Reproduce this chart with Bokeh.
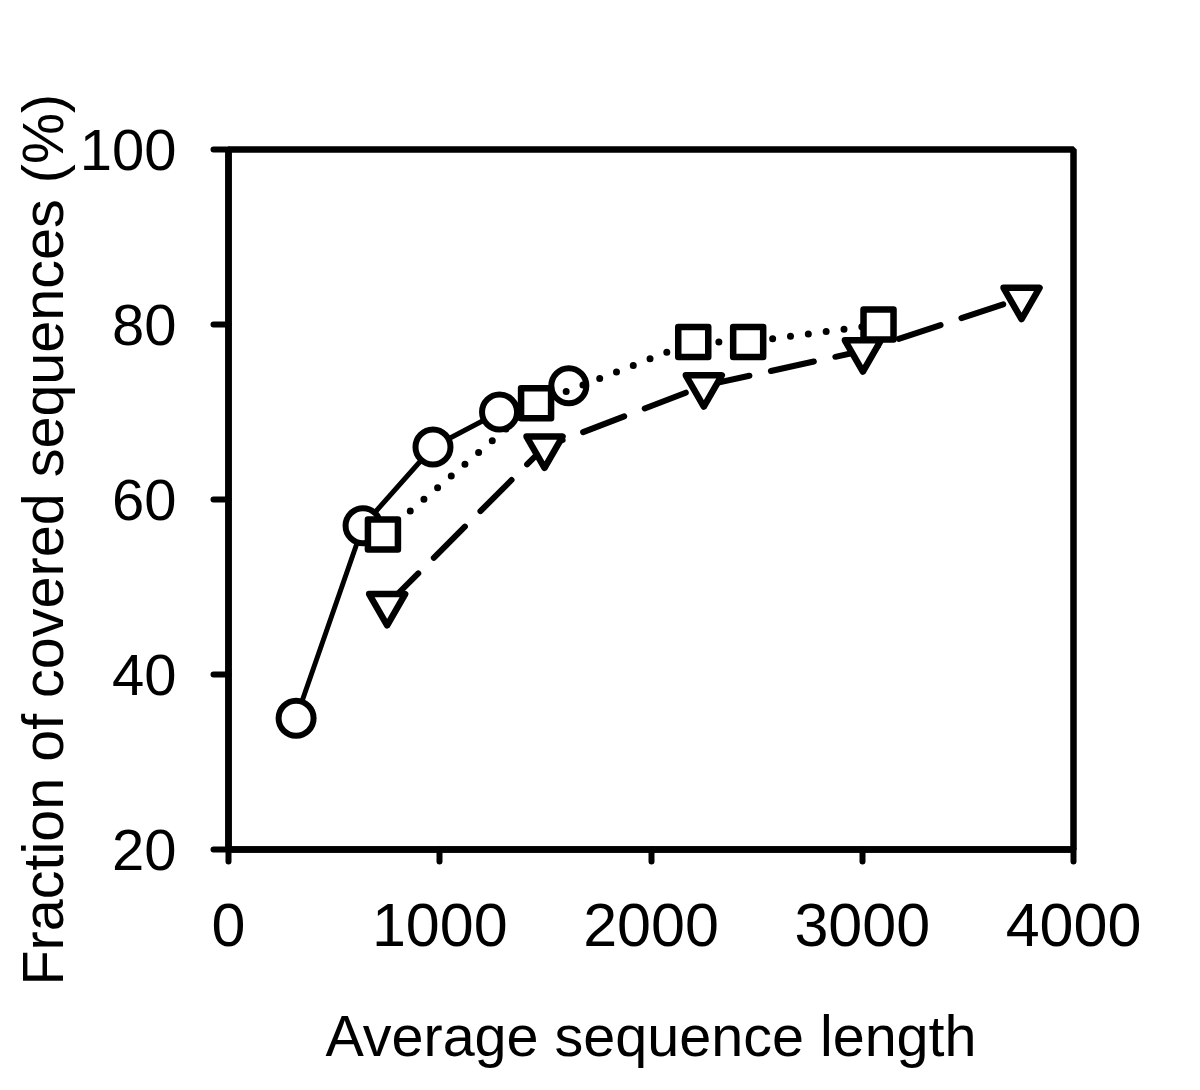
from bokeh.plotting import figure
from bokeh.models import Range1d, FixedTicker, Title
from bokeh.embed import file_html
from bokeh.resources import INLINE

# data
circle_x = [320, 637, 968, 1283, 1611]
circle_y = [35, 57, 66, 70, 73]
square_x = [731, 1456, 2200, 2460, 3077]
square_y = [56, 71, 78, 78, 80]
tri_x = [751, 1496, 2250, 3003, 3754]
tri_y = [48, 66, 73, 77, 83]
x_ticks = [0, 1000, 2000, 3000, 4000]
y_ticks = [20, 40, 60, 80, 100]
x_label = "Average sequence length"
y_label = "Fraction of covered sequences (%)"

FONT = "Liberation Sans"

p = figure(width=1184, height=1074, output_backend="svg", toolbar_location=None,
           x_range=Range1d(0, 4000), y_range=Range1d(20, 100),
           min_border_left=228, min_border_right=111,
           min_border_top=149, min_border_bottom=225)
p.grid.visible = False
p.background_fill_color = "white"
p.border_fill_color = "white"
p.outline_line_color = "black"
p.outline_line_width = 6.5

for ax, ticks, size, tout, standoff in ((p.xaxis, x_ticks, "61px", 12, 42),
                                         (p.yaxis, y_ticks, "58px", 15, 37)):
    ax.ticker = FixedTicker(ticks=ticks)
    ax.axis_line_color = "black"
    ax.axis_line_width = 6.5
    ax.major_tick_line_color = "black"
    ax.major_tick_line_width = 6
    ax.major_tick_line_cap = "round"
    ax.major_tick_in = 0
    ax.major_tick_out = tout
    ax.minor_tick_line_color = None
    ax.major_label_text_font = FONT
    ax.major_label_text_font_size = size
    ax.major_label_text_color = "black"
    ax.major_label_standoff = standoff

p.xaxis.axis_label = x_label
p.xaxis.axis_label_text_font = FONT
p.xaxis.axis_label_text_font_size = "57.5px"
p.xaxis.axis_label_text_font_style = "normal"
p.xaxis.axis_label_text_color = "black"
p.xaxis.axis_label_standoff = 55

ytitle = Title(text=y_label, align="left", offset=-136, text_font=FONT,
               text_font_size="57.5px", text_font_style="normal", text_color="black",
               standoff=4)
p.add_layout(ytitle, "left")

# circles, solid line
p.line(circle_x, circle_y, line_color="black", line_width=5, line_join="round")
p.scatter(circle_x, circle_y, marker="circle", size=35, fill_color="white",
          line_color="black", line_width=6)

# squares, dotted line
p.line(square_x, square_y, line_color="black", line_width=7, line_dash="0 18",
       line_cap="round")
p.scatter(square_x, square_y, marker="square", size=30, fill_color="white",
          line_color="black", line_width=6.5, line_join="round")

# inverted triangles, dashed line
p.line(tri_x, tri_y, line_color="black", line_width=6, line_dash="44 22",
       line_cap="round")
p.scatter(tri_x, tri_y, marker="inverted_triangle", size=36, fill_color="white",
          line_color="black", line_width=6.5, line_join="round")

open("out.html", "w").write(file_html(p, INLINE))
